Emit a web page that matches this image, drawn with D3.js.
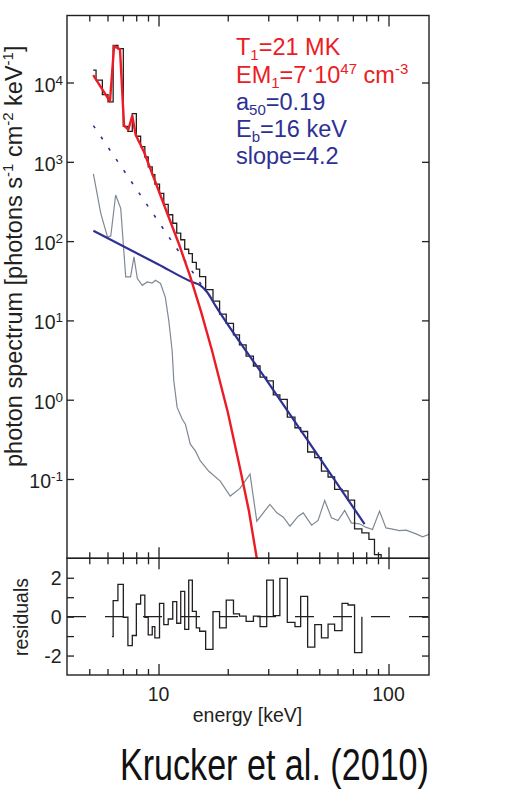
<!DOCTYPE html>
<html>
<head>
<meta charset="utf-8">
<script src="https://cdn.jsdelivr.net/npm/d3@7"></script>
<style>
body { margin: 0; background: #fff; }
text { font-family: "Liberation Sans", Arial, sans-serif; fill: #231f20; }
</style>
</head>
<body>
<div id="chart"></div>
<script>
// observed spectrum: energy bin edges [keV] and flux per bin
const edges = [5.20, 5.35, 5.70, 6.03, 6.35, 6.66, 7.03, 7.36, 7.69, 8.01, 8.36, 8.72, 9.02, 9.39, 9.64,
  10.10, 10.54, 11.02, 11.53, 12.00, 12.49, 13.00, 13.53, 14.03, 14.60, 15.09, 16.03, 17.25, 18.43, 19.70,
  21.18, 22.49, 24.04, 25.86, 27.64, 29.54, 31.56, 33.7, 36.3, 39.2, 41.5, 44.5, 47.8, 51.1, 54.6, 58.3,
  62.8, 66.7, 71.2, 76.6, 82.2, 86.9, 92.9, 99.0];
const flux = [1.43e4, 1.07e4, 7.05e3, 5.7e3, 2.94e4, 2.67e4, 2.80e3, 2.42e3, 4.06e3, 2.1e3, 1.55e3, 1.15e3,
  865, 690, 524, 401, 290, 215, 168, 126, 104, 78.9, 69.5, 53.9, 44.3, 35.6, 24.4, 17.5, 12.0, 9.15, 6.56,
  4.9, 3.54, 2.66, 1.93, 1.73, 1.15, 1.01, 0.603, 0.443, 0.397, 0.219, 0.186, 0.126, 0.106, 0.0738, 0.071,
  0.054, 0.0235, 0.0209, 0.0173, 0.0111, 0.008];
// residuals per bin (null = outside fit range)
const resid = [null, null, null, -1.03, 0.82, 1.66, -0.03, -1.49, -0.97, 0.65, 1.11, -0.03, -0.94, -0.51,
  -1.09, 0.68, -0.41, -0.12, 0.77, -0.34, 1.30, -0.65, 1.88, 0.27, -0.58, -0.75, -1.68, 0.26, -0.58, 0.85,
  0.14, 0.03, -0.24, 0.03, -0.51, 1.88, 0.05, 1.97, -0.29, -0.51, 1.04, -1.57, -0.41, -1.09, -0.38, -0.72,
  0.68, 0.60, -1.85, null, null, null, null];
const fitRange = [6.27, 76.6];

// background (grey)
const bgE = [5.21, 5.61, 6.00, 6.20, 6.51, 6.85, 7.20, 7.56, 7.82, 8.09, 8.50, 8.93, 9.39, 9.70, 10.2, 10.7,
  11.08, 11.46, 11.65, 12.05, 12.67, 13.09, 13.75, 14.46, 15.2, 16.51, 18.55, 20.5, 22.6, 25.0, 26.75, 30.5,
  32.7, 34.9, 37.3, 40.5, 42.6, 46.3, 49.4, 52.8, 56.5, 60.3, 64.5, 68.9, 74.9, 79.5, 85.2, 91.4, 97.5, 104.1,
  111.6, 119.3, 131.8, 140.8, 150];
const bgF = [705, 224, 113, 116, 382, 259, 35.3, 35.3, 63.2, 33.7, 27.7, 30.5, 29.6, 32.1, 29.2, 19.7, 10.0,
  4.17, 1.74, 0.80, 0.57, 0.49, 0.275, 0.226, 0.169, 0.126, 0.094, 0.061, 0.076, 0.115, 0.0294, 0.0479,
  0.0374, 0.033, 0.0254, 0.034, 0.0374, 0.0262, 0.030, 0.0537, 0.0324, 0.030, 0.0402, 0.028, 0.0272, 0.0247,
  0.0231, 0.0394, 0.0242, 0.0233, 0.0224, 0.0226, 0.0203, 0.0187, 0.020];

// thermal model (red)
const redE = [5.20, 6.15, 6.41, 6.80, 7.08, 7.39, 7.69, 7.95, 8.64, 10.9, 12.3, 13.75, 15.3, 17.08, 20.0, 22.6, 24.7, 26.75, 28.5];
const redF = [1.24e4, 5.79e3, 2.88e4, 2.62e4, 2.86e3, 2.54e3, 3.82e3, 2.20e3, 1.34e3, 226, 90, 35.3, 13, 4.17, 0.7, 0.138, 0.04, 0.01, 0.004];

// non-thermal broken power law (blue) and its extension (dotted)
const blueE = [5.21, 10, 13.99, 15.2, 16.25, 17.65, 30, 50, 78.7];
const blueF = [135, 50.7, 30.5, 27.7, 22.8, 15.5, 1.64, 0.187, 0.027];
const dotE = [5.21, 16.1];
const dotF = [2860, 22.9];

const yTickVals = [1e4, 1e3, 1e2, 1e1, 1e0, 1e-1];
const yTickExp = ["4", "3", "2", "1", "0", "-1"];
const xMajor = [10, 100];
const xMinor = [5, 6, 7, 8, 9, 20, 30, 40, 50, 60, 70, 80, 90];
const rTicks = [-2, -1, 0, 1, 2];
const rLabels = [-2, 0, 2];

const yTitle = [["photon spectrum [photons s"], ["-1", "sup"], [" cm"], ["-2", "sup"], [" keV"], ["-1", "sup"], ["]"]];
const legendRed = [
  [["T"], ["1", "sub"], ["=21 MK"]],
  [["EM"], ["1", "sub"], ["=7"], ["·", "dot"], ["10"], ["47", "sup"], [" cm"], ["-3", "sup"]]
];
const legendBlue = [
  [["a"], ["50", "sub"], ["=0.19"]],
  [["E"], ["b", "sub"], ["=16 keV"]],
  [["slope=4.2"]]
];

const RED = "#ec1c24", BLUE = "#2e3192", GREY = "#7f8993", INK = "#231f20";
const W = 510, H = 802;
const pLeft = 67, pRight = 429, pTop = 15.5, pMid = 558.3, pBottom = 675;

const svg = d3.select("#chart").append("svg").attr("width", W).attr("height", H);

const x = d3.scaleLog().domain([4, 150]).range([pLeft, pRight]);
const y = d3.scaleLog().domain([0.01, 7e4]).range([pMid, pTop]);
const yr = d3.scaleLinear().domain([-3, 3]).range([pBottom, pMid]);

// rich text: segments of [text, kind] with kind sup / sub / dot
function rich(t, segs, small, up, down) {
  let pending = 0;
  segs.forEach(s => {
    const ts = t.append("tspan").text(s[0]);
    let dy = pending;
    if (s[1] === "sup") { ts.attr("font-size", small); dy -= up; pending = up; }
    else if (s[1] === "sub") { ts.attr("font-size", small); dy += down; pending = -down; }
    else if (s[1] === "dot") { dy -= up * 0.6; pending = up * 0.6; }
    else pending = 0;
    if (dy) ts.attr("dy", dy);
  });
}

svg.append("clipPath").attr("id", "clipMain")
  .append("rect").attr("x", pLeft).attr("y", pTop).attr("width", pRight - pLeft).attr("height", pMid - pTop);

const plot = svg.append("g").attr("clip-path", "url(#clipMain)");

const line = d3.line().x(d => x(d[0])).y(d => y(d[1]));
const stepLine = d3.line().x(d => x(d[0])).y(d => y(d[1])).curve(d3.curveStepAfter);
const smoothLine = d3.line().x(d => x(d[0])).y(d => y(d[1])).curve(d3.curveMonotoneX);

// background
plot.append("path")
  .attr("d", line(bgE.map((e, i) => [e, bgF[i]])))
  .attr("fill", "none").attr("stroke", GREY).attr("stroke-width", 1.2);

// data histogram
const stepPts = flux.map((f, i) => [edges[i], f]);
stepPts.push([edges[edges.length - 1], flux[flux.length - 1]]);
plot.append("path")
  .attr("d", stepLine(stepPts))
  .attr("fill", "none").attr("stroke", INK).attr("stroke-width", 1.3);

// dotted extension
plot.append("path")
  .attr("d", line(dotE.map((e, i) => [e, dotF[i]])))
  .attr("fill", "none").attr("stroke", BLUE).attr("stroke-width", 1.6)
  .attr("stroke-dasharray", "3,10.5");

// broken power law
plot.append("path")
  .attr("d", smoothLine(blueE.map((e, i) => [e, blueF[i]])))
  .attr("fill", "none").attr("stroke", BLUE).attr("stroke-width", 2.2);

// thermal
plot.append("path")
  .attr("d", line(redE.map((e, i) => [e, redF[i]])))
  .attr("fill", "none").attr("stroke", RED).attr("stroke-width", 2.4).attr("stroke-linejoin", "round");

// residual panel
svg.append("line")
  .attr("x1", pLeft).attr("x2", pRight).attr("y1", yr(0)).attr("y2", yr(0))
  .attr("stroke", INK).attr("stroke-width", 1.2).attr("stroke-dasharray", "19,19");

const rPts = [];
let lastR = -1;
resid.forEach((r, i) => {
  if (r == null) return;
  rPts.push([Math.max(edges[i], fitRange[0]), r]);
  lastR = i;
});
rPts.push([Math.min(edges[lastR + 1], fitRange[1]), resid[lastR]]);
rPts.push([Math.min(edges[lastR + 1], fitRange[1]), 0]);
svg.append("path")
  .attr("d", d3.line().x(d => x(d[0])).y(d => yr(d[1])).curve(d3.curveStepAfter)(rPts))
  .attr("fill", "none").attr("stroke", INK).attr("stroke-width", 1.3);

// frames
[[pTop, pMid], [pMid, pBottom]].forEach(([a, b]) => {
  svg.append("rect").attr("x", pLeft).attr("y", a).attr("width", pRight - pLeft).attr("height", b - a)
    .attr("fill", "none").attr("stroke", INK).attr("stroke-width", 1.4);
});

// x ticks on the horizontal borders (dir -1: ticks point down, +1: point up)
function xTicks(ypos, dir) {
  const g = svg.append("g").attr("transform", `translate(0,${ypos})`);
  const mk = () => dir < 0 ? d3.axisTop(x) : d3.axisBottom(x);
  g.append("g").call(mk().tickValues(xMinor).tickSize(-6).tickFormat(""));
  g.append("g").call(mk().tickValues(xMajor).tickSize(-11).tickFormat(""));
  g.selectAll(".domain").remove();
  g.selectAll("line").attr("stroke", INK).attr("stroke-width", 1.3);
}
xTicks(pTop, -1);
xTicks(pMid, 1);
xTicks(pMid, -1);
xTicks(pBottom, 1);

// y ticks
function yTicks(scale, vals, xpos, dir) {
  const g = svg.append("g").attr("transform", `translate(${xpos},0)`);
  g.call((dir > 0 ? d3.axisLeft(scale) : d3.axisRight(scale)).tickValues(vals).tickSize(-7).tickFormat(""));
  g.selectAll(".domain").remove();
  g.selectAll("line").attr("stroke", INK).attr("stroke-width", 1.3);
}
yTicks(y, yTickVals, pLeft, 1);
yTicks(y, yTickVals, pRight, -1);
yTicks(yr, rTicks, pLeft, 1);
yTicks(yr, rTicks, pRight, -1);

// y tick labels (powers of ten)
yTickVals.forEach((v, i) => {
  const t = svg.append("text").attr("x", 63).attr("y", y(v) + 9)
    .attr("text-anchor", "end").attr("font-size", 19.5);
  t.append("tspan").text("10");
  t.append("tspan").attr("dy", -7).attr("font-size", 13.5).text(yTickExp[i]);
});

rLabels.forEach(v => {
  svg.append("text").attr("x", 61.5).attr("y", yr(v) + 7)
    .attr("text-anchor", "end").attr("font-size", 19.5).text(v);
});

xMajor.forEach(v => {
  svg.append("text").attr("x", x(v)).attr("y", 701)
    .attr("text-anchor", "middle").attr("font-size", 19.5).text(v);
});

svg.append("text").attr("x", 247.5).attr("y", 722)
  .attr("text-anchor", "middle").attr("font-size", 19.5).text("energy [keV]");

// axis titles
const yl = svg.append("text").attr("transform", "translate(21.5,467) rotate(-90)")
  .attr("font-size", 23.5);
rich(yl, yTitle, 15, 8.5, 0);

svg.append("text").attr("transform", "translate(28,617) rotate(-90)")
  .attr("text-anchor", "middle").attr("font-size", 19.5).text("residuals");

// legend
legendRed.forEach((segs, i) => {
  const t = svg.append("text").attr("x", 236).attr("y", 55 + i * 27.5).attr("font-size", 23.5).style("fill", RED);
  rich(t, segs, 15, 9, 5);
});
legendBlue.forEach((segs, i) => {
  const t = svg.append("text").attr("x", 236).attr("y", 110 + i * 27).attr("font-size", 23.5).style("fill", BLUE);
  rich(t, segs, 15, 9, 5);
});

// caption (condensed face)
svg.append("text").attr("transform", "translate(120,780) scale(0.775,1)").attr("font-size", 44)
  .style("fill", "#111").text("Krucker et al. (2010)");
</script>
</body>
</html>
